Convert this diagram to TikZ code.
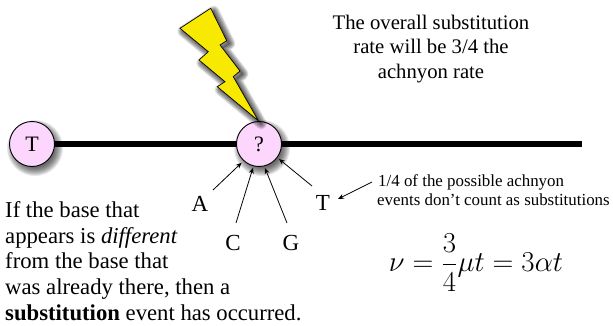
\documentclass[tikz,border=0pt]{standalone}
\usepackage{graphicx}
\usepackage{fontspec}
\setmainfont{Liberation Serif}
\usetikzlibrary{arrows.meta,calc}
\pgfdeclarelayer{background}
\pgfsetlayers{background,main}
\definecolor{basepink}{RGB}{253,214,253}
\definecolor{boltyellow}{RGB}{247,234,0}
\tikzset{
  base/.style={circle,draw=black,line width=0.9pt,fill=basepink,minimum size=45pt,inner sep=0pt,font=\fontsize{22}{24}\selectfont},
  branch/.style={line width=5.6pt,draw=black},
  basearrow/.style={draw=black,line width=0.8pt,-{Stealth[length=6pt,width=5pt]}},
  baselabel/.style={inner sep=0pt,font=\fontsize{23}{25}\selectfont},
  bodytext/.style={inner sep=0pt,align=left,anchor=north west,font=\fontsize{22.7}{25.6}\selectfont},
  toptext/.style={inner sep=0pt,align=center,font=\fontsize{20.7}{24.5}\selectfont},
  notetext/.style={inner sep=0pt,align=left,anchor=north west,font=\fontsize{16.9}{19}\selectfont},
}
\begin{document}
\begin{tikzpicture}[x=1pt,y=-1pt]
\useasboundingbox (0,0) rectangle (613,326);
% nodes
\node[base] (t) at (32,144) {T};
\node[base] (q) at (259,144) {?};
\coordinate (lineend) at (582,144);
\node[baselabel] (la) at (200,204) {A};
\node[baselabel] (lc) at (233,243) {C};
\node[baselabel] (lg) at (291,243) {G};
\node[baselabel] (lt) at (323,203) {T};
\coordinate (qa) at (241.7,162.7);
\coordinate (qc) at (253,167.7);
\coordinate (qg) at (265,168);
\coordinate (qt) at (279,159);
\coordinate (sa) at (213,190);
\coordinate (sc) at (236,223);
\coordinate (sg) at (287,223);
\coordinate (st) at (312,186);
\coordinate (notetail) at (372,182);
\coordinate (notehead) at (338,199);
\begin{pgfonlayer}{background}
  \draw[branch] (t.center) -- (lineend);
  \foreach \r in {20,21,...,28}{
    \fill[black,opacity=0.09] ($(t.center)+(3,4)$) circle (\r pt);
    \fill[black,opacity=0.09] ($(q.center)+(3,4)$) circle (\r pt);
  }
\end{pgfonlayer}
% lightning bolt
\foreach \w in {11,9,7,5,3,1}{
  \draw[black,opacity=0.13,line width=\w pt,line join=round,fill=black,fill opacity=0.03,shift={(3,3)}]
    (210.7,8.3)--(180,28.3)--(208.3,51.7)--(199,60)--(225,81.7)--(217.3,86.7)--(258.3,120.7)--(233.3,76.7)--(240,71)--(220,45)--(226.7,40.7)--cycle;
}
\draw[black,line width=0.7pt,fill=boltyellow,line join=miter]
    (210.7,8.3)--(180,28.3)--(208.3,51.7)--(199,60)--(225,81.7)--(217.3,86.7)--(258.3,120.7)--(233.3,76.7)--(240,71)--(220,45)--(226.7,40.7)--cycle;
% arrows
\draw[basearrow] (sa) -- (qa);
\draw[basearrow] (sc) -- (qc);
\draw[basearrow] (sg) -- (qg);
\draw[basearrow] (st) -- (qt);
\draw[basearrow] (notetail) -- (notehead);
% texts
\node[toptext] (top) at (431,49) {The overall substitution\\rate will be 3/4 the\\achnyon rate};
\node[notetext] (note) at (377,174) {\hspace{1pt}1/4 of the possible achnyon\\events don\symbol{39}t count as substitutions};
\node[bodytext] (body) at (5,201.5) {If the base that\\appears is \textit{different}\\from the base that\\was already there, then a\\\textbf{substitution} event has occurred.};
\node[inner sep=0pt] (eq) at (476,262.5) {\scalebox{1.16}{\fontsize{24}{28}\selectfont$\displaystyle\nu=\frac{3}{4}\mu t=3\alpha t$}};
\end{tikzpicture}
\end{document}
